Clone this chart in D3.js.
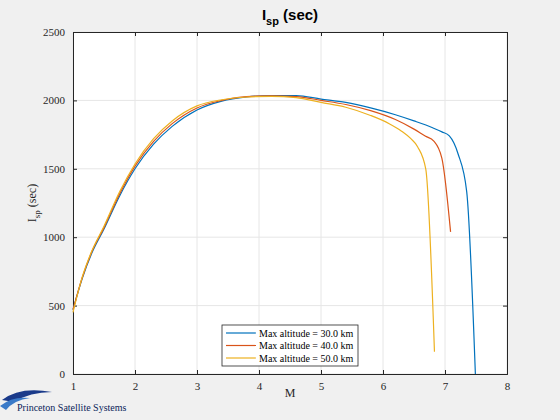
<!DOCTYPE html><html><head><script src="https://cdn.jsdelivr.net/npm/d3@7"></script>
<style>body{margin:0;background:#f0f0f0} .tick text{font-family:"Liberation Serif",serif}</style></head><body><svg id="c" width="560" height="420"></svg>
<script>
const xTicks=[1,2,3,4,5,6,7,8];
const yTicks=[0,500,1000,1500,2000,2500];
const names=["Max altitude = 30.0 km","Max altitude = 40.0 km","Max altitude = 50.0 km"];
const colors=["#0072bd","#d95319","#edb120"];
const m30=[1,1.15,1.3,1.5,1.75,2,2.3,2.6,3,3.4,3.8,4.2,4.6,5,5.4,5.8,6.2,6.5,6.8,6.95,7.07,7.21,7.35,7.49];
const v30=[470,700,880,1060,1300,1500,1680,1810,1930,1995,2025,2035,2035,2010,1985,1945,1895,1850,1800,1770,1740,1610,1333,0];
const m40=[1,1.15,1.3,1.5,1.75,2,2.3,2.6,3,3.4,3.8,4.2,4.6,5,5.4,5.8,6.2,6.5,6.68,6.82,6.95,7.09];
const v40=[470,705,890,1070,1315,1520,1700,1830,1945,2000,2028,2033,2028,2000,1970,1925,1860,1790,1740,1703,1577,1039];
const m50=[1,1.15,1.3,1.5,1.75,2,2.3,2.6,3,3.4,3.8,4.2,4.6,5,5.4,5.8,6.1,6.3,6.45,6.56,6.69,6.83];
const v50=[450,710,895,1080,1330,1535,1720,1850,1960,2005,2025,2030,2020,1985,1950,1890,1830,1775,1720,1660,1497,163];
const series=[[m30,v30],[m40,v40],[m50,v50]];
const svg=d3.select("#c");
const L=73,R=507,T=32,B=374;
const x=d3.scaleLinear().domain([1,8]).range([L,R]);
const y=d3.scaleLinear().domain([0,2500]).range([B,T]);
svg.append("rect").attr("x",L).attr("y",T).attr("width",R-L).attr("height",B-T).attr("fill","#fff");
const g=svg.append("g");
xTicks.forEach(t=>g.append("line").attr("x1",x(t)).attr("x2",x(t)).attr("y1",T).attr("y2",B).attr("stroke","#e6e6e6"));
yTicks.forEach(t=>g.append("line").attr("y1",y(t)).attr("y2",y(t)).attr("x1",L).attr("x2",R).attr("stroke","#e6e6e6"));
const font="Liberation Serif";
const fmt=d3.format("d");
svg.append("g").attr("transform",`translate(0,${B})`).call(d3.axisBottom(x).tickValues(xTicks).tickSize(-4).tickPadding(8).tickFormat(fmt));
svg.append("g").attr("transform",`translate(${L},0)`).call(d3.axisLeft(y).tickValues(yTicks).tickSize(-4).tickPadding(8).tickFormat(fmt));
svg.append("g").attr("transform",`translate(0,${T})`).call(d3.axisTop(x).tickValues(xTicks).tickSize(-4).tickFormat(""));
svg.append("g").attr("transform",`translate(${R},0)`).call(d3.axisRight(y).tickValues(yTicks).tickSize(-4).tickFormat(""));
svg.selectAll(".domain,.tick line").attr("stroke","#262626");
svg.selectAll(".tick text").attr("font-family",font).attr("font-size",11).attr("fill","#262626");
const line=d3.line().x(d=>x(d[0])).y(d=>y(d[1])).curve(d3.curveMonotoneX);
series.forEach((s,i)=>{
  svg.append("path").datum(s[0].map((m,j)=>[m,s[1][j]])).attr("d",line).attr("fill","none").attr("stroke",colors[i]).attr("stroke-width",1.2);
});
svg.append("text").attr("x",290).attr("y",397).attr("text-anchor","middle").attr("font-family",font).attr("font-size",12).attr("fill","#262626").text("M");
const yl=svg.append("text").attr("transform","translate(36,203) rotate(-90)").attr("text-anchor","middle").attr("font-family",font).attr("font-size",12).attr("fill","#262626");
yl.append("tspan").text("I");yl.append("tspan").attr("font-size",9).attr("dy",4).text("sp");yl.append("tspan").attr("dy",-4).text(" (sec)");
const tt=svg.append("text").attr("x",290).attr("y",20).attr("text-anchor","middle").attr("font-family","Liberation Sans").attr("font-weight","bold").attr("font-size",15).attr("fill","#000");
tt.append("tspan").text("I");tt.append("tspan").attr("font-size",11).attr("dy",5).text("sp");tt.append("tspan").attr("dy",-5).text(" (sec)");
const lg=svg.append("g");
lg.append("rect").attr("x",222).attr("y",325).attr("width",136).attr("height",41).attr("fill","#fff").attr("stroke","#262626").attr("stroke-width",0.8);
names.forEach((n,i)=>{
  const yy=333+i*12.5;
  lg.append("line").attr("x1",226).attr("x2",256).attr("y1",yy).attr("y2",yy).attr("stroke",colors[i]).attr("stroke-width",1.2);
  lg.append("text").attr("x",259).attr("y",yy+3.5).attr("font-family",font).attr("font-size",10).attr("fill","#000").text(n);
});
const logo=svg.append("g");
logo.append("path").attr("d","M2,400 Q20,386 52,392 Q30,392 14,402 Z").attr("fill","#1a3a8a");
logo.append("path").attr("d","M0,406 Q12,396 30,398 Q14,400 6,410 Z").attr("fill","#3a7ac8");
logo.append("text").attr("x",17).attr("y",411).attr("font-family",font).attr("font-size",10).attr("fill","#0a1e5a").text("Princeton Satellite Systems");
</script></body></html>
